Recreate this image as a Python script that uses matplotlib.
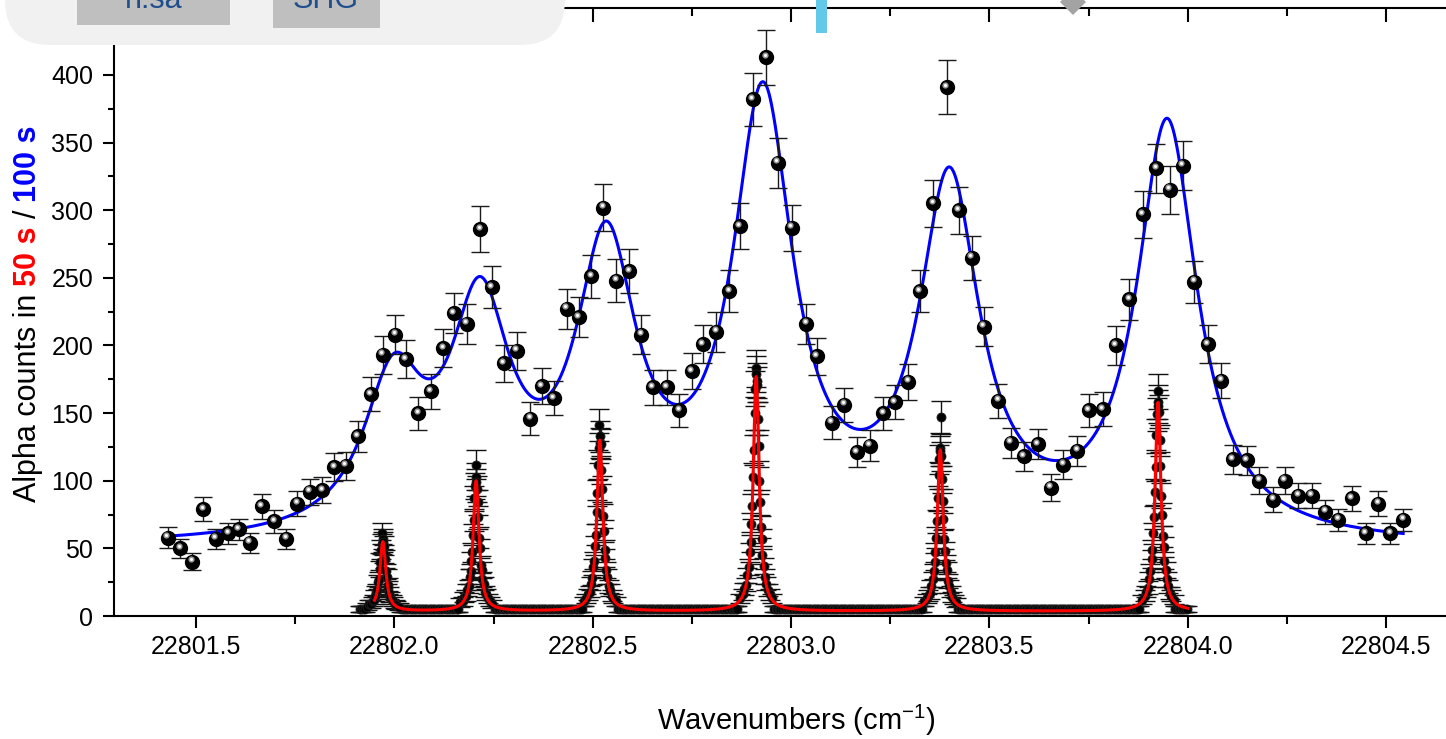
import numpy as np
import matplotlib
matplotlib.use("Agg")
import matplotlib.pyplot as plt
from matplotlib import transforms
from matplotlib.patches import FancyBboxPatch, Rectangle, RegularPolygon
from matplotlib.ticker import MultipleLocator, FormatStrFormatter

plt.rcParams['font.family'] = ['Liberation Sans', 'DejaVu Sans']
plt.rcParams['mathtext.fontset'] = 'custom'
plt.rcParams['mathtext.rm'] = 'Liberation Sans'
plt.rcParams['mathtext.it'] = 'Liberation Sans:italic'
plt.rcParams['mathtext.bf'] = 'Liberation Sans:bold'

# ---- 100 s scan (coarse, black spheres) ----
coarse_x = [
    22801.429, 22801.460, 22801.490, 22801.518, 22801.550, 22801.581, 22801.608, 22801.636, 22801.666, 22801.697,
    22801.727, 22801.755, 22801.787, 22801.818, 22801.848, 22801.878, 22801.908, 22801.941, 22801.971, 22802.002,
    22802.029, 22802.060, 22802.092, 22802.123, 22802.150, 22802.183, 22802.216, 22802.246, 22802.276, 22802.309,
    22802.342, 22802.372, 22802.402, 22802.435, 22802.465, 22802.496, 22802.526, 22802.559, 22802.592, 22802.622,
    22802.652, 22802.687, 22802.718, 22802.750, 22802.778, 22802.811, 22802.844, 22802.871, 22802.904, 22802.937,
    22802.967, 22803.002, 22803.038, 22803.065, 22803.103, 22803.134, 22803.166, 22803.199, 22803.232, 22803.262,
    22803.295, 22803.325, 22803.358, 22803.393, 22803.423, 22803.456, 22803.486, 22803.522, 22803.554, 22803.587,
    22803.622, 22803.655, 22803.686, 22803.721, 22803.751, 22803.786, 22803.819, 22803.852, 22803.887, 22803.920,
    22803.955, 22803.988, 22804.016, 22804.051, 22804.084, 22804.114, 22804.149, 22804.180, 22804.215, 22804.245,
    22804.278, 22804.313, 22804.346, 22804.379, 22804.414, 22804.449, 22804.480, 22804.510, 22804.543,
]
coarse_counts = [
    58, 50, 40, 79, 57, 61, 64, 54, 81, 70,
    57, 83, 92, 93, 110, 111, 133, 164, 193, 208,
    190, 150, 166, 198, 224, 216, 286, 243, 187, 196,
    146, 170, 161, 227, 221, 251, 302, 248, 255, 208,
    169, 169, 152, 181, 201, 210, 240, 288, 382, 413,
    335, 287, 216, 192, 143, 156, 121, 126, 150, 158,
    173, 240, 305, 391, 300, 265, 214, 159, 128, 118,
    127, 95, 112, 122, 152, 153, 200, 234, 297, 331,
    315, 333, 247, 201, 174, 116, 115, 100, 86, 100,
    89, 89, 77, 71, 87, 61, 83, 61, 71,
]

# blue fit: peak positions / top values
blue_centers = [22801.998, 22802.216, 22802.534, 22802.929, 22803.399, 22803.948]
blue_tops = [194, 251, 292, 395, 332, 368]
blue_end_values = [59, 61]
blue_fwhm = 0.185

# ---- 50 s scan (fine, small black dots) ----
red_centers = [22801.971, 22802.206, 22802.518, 22802.912, 22803.376, 22803.925]
red_tops = [55, 100, 130, 177, 123, 158]
red_base = 3.5
red_fwhm = 0.018

fine_offsets = [-0.040, -0.034, -0.030, -0.026, -0.022, -0.019, -0.016, -0.014, -0.012, -0.010,
                -0.008, -0.006, -0.004, -0.002, -0.001, 0.0, 0.001, 0.002, 0.004, 0.006,
                0.008, 0.010, 0.012, 0.014, 0.016, 0.019, 0.022, 0.026, 0.030, 0.034, 0.040]
fine_peak1 = [7, 9, 9, 11, 12, 15, 18, 19, 25, 27, 35, 40, 49, 53, 61, 57, 55, 52, 46, 42,
              33, 29, 23, 21, 17, 14, 12, 11, 9, 8, 7]
fine_peak2 = [10, 11, 14, 15, 19, 22, 29, 33, 41, 47, 60, 71, 87, 96, 112, 103, 99, 94, 84, 73,
              58, 50, 38, 34, 27, 24, 18, 16, 13, 11, 9]
fine_peak3 = [11, 13, 16, 18, 24, 28, 36, 41, 52, 60, 77, 91, 112, 124, 141, 133, 128, 127, 108, 94,
              74, 63, 49, 43, 34, 29, 22, 19, 15, 13, 11]
fine_peak4 = [13, 16, 20, 23, 30, 36, 47, 55, 68, 81, 103, 123, 150, 168, 183, 179, 174, 171, 146, 126,
              100, 84, 66, 57, 45, 37, 29, 24, 19, 16, 13]
fine_peak5 = [11, 13, 15, 17, 22, 27, 33, 40, 47, 58, 70, 87, 104, 116, 124, 122, 147, 118, 101, 85,
              72, 57, 48, 39, 34, 26, 22, 18, 14, 12, 10]
fine_peak6 = [12, 15, 18, 21, 27, 33, 42, 49, 61, 73, 92, 110, 134, 149, 166, 158, 155, 151, 130, 111,
              89, 75, 59, 51, 41, 34, 27, 22, 17, 15, 12]
fine_scan_start, fine_scan_stop, fine_scan_step = 22801.913, 22804.0, 0.004
fine_bg_counts = 5


def lorentz(x, c, w):
    return 1.0 / (1.0 + (2.0 * (np.asarray(x) - c) / w) ** 2)


# blue fit: linear baseline + six Lorentzians through the read tops / ends
x0 = coarse_x[0]
pts = list(blue_centers) + [coarse_x[0], coarse_x[-1]]
vals = list(blue_tops) + list(blue_end_values)
A = np.array([[1.0, p - x0] + [lorentz(p, c, blue_fwhm) for c in blue_centers] for p in pts])
coef_b = np.linalg.solve(A, np.array(vals, float))
xb = np.linspace(coarse_x[0], coarse_x[-1], 2000)
yb = coef_b[0] + coef_b[1] * (xb - x0) + sum(a * lorentz(xb, c, blue_fwhm) for a, c in zip(coef_b[2:], blue_centers))

# red fit
R = np.array([[lorentz(p, c, red_fwhm) for c in red_centers] for p in red_centers])
amp_r = np.linalg.solve(R, np.array(red_tops, float) - red_base)
xr = np.linspace(22801.95, 22804.0, 5000)
yr = red_base + sum(a * lorentz(xr, c, red_fwhm) for a, c in zip(amp_r, red_centers))

# fine scan points
grid = np.arange(fine_scan_start, fine_scan_stop, fine_scan_step)
keep = np.all([np.abs(grid - c) > 0.044 for c in red_centers], axis=0)
fine_x = [grid[keep]]
fine_y = [np.full(keep.sum(), fine_bg_counts, float)]
for c, cnt in zip(red_centers, [fine_peak1, fine_peak2, fine_peak3, fine_peak4, fine_peak5, fine_peak6]):
    fine_x.append(c + np.array(fine_offsets))
    fine_y.append(np.array(cnt, float))
fine_x = np.concatenate(fine_x)
fine_y = np.concatenate(fine_y)

W, H = 1446, 739
fig = plt.figure(figsize=(W / 100, H / 100), dpi=100)
ax = fig.add_axes([114 / W, (H - 616) / H, (1470 - 114) / W, (616 - 8) / H])

ax.errorbar(fine_x, fine_y, yerr=np.sqrt(fine_y), fmt='none', ecolor='#111111',
            elinewidth=1.0, capsize=7, capthick=1.0, zorder=2)
ax.plot(fine_x, fine_y, 'o', ms=6.5, mfc='black', mec='#222222', mew=0.6, zorder=3)
ax.plot(xr, yr, color='red', lw=2.2, zorder=4)

ax.plot(xb, yb, color='#0000ff', lw=2.2, zorder=5)
ax.errorbar(coarse_x, coarse_counts, yerr=np.sqrt(coarse_counts), fmt='none', ecolor='#1a1a1a',
            elinewidth=1.0, capsize=6.5, capthick=1.0, zorder=6)
ax.plot(coarse_x, coarse_counts, 'o', ms=10, mfc='black', mec='black', zorder=7)
hl = transforms.offset_copy(ax.transData, fig=fig, x=-1.5, y=2.5, units='dots')
ax.plot(coarse_x, coarse_counts, 'o', ms=4.5, mfc='#999999', mec='none', transform=hl, zorder=8)
ax.plot(coarse_x, coarse_counts, 'o', ms=2.2, mfc='white', mec='none', transform=hl, zorder=9)

ax.set_xlim(22801.2933, 22804.7115)
ax.set_ylim(0, 449.5)
ax.xaxis.set_major_locator(MultipleLocator(0.5))
ax.xaxis.set_minor_locator(MultipleLocator(0.25))
ax.xaxis.set_major_formatter(FormatStrFormatter('%.1f'))
ax.yaxis.set_major_locator(MultipleLocator(50))
ax.yaxis.set_minor_locator(MultipleLocator(25))
for s in ['top', 'right']:
    ax.spines[s].set_visible(False)
for s in ['bottom', 'left']:
    ax.spines[s].set_linewidth(1.5)
ax.tick_params(axis='x', which='major', direction='out', length=8.6, width=1.5, labelsize=18, pad=5)
ax.tick_params(axis='x', which='minor', direction='out', length=5.8, width=1.5)
ax.tick_params(axis='y', which='major', direction='out', length=8, width=1.5, labelsize=18, pad=7)
ax.tick_params(axis='y', which='minor', direction='out', length=4, width=1.5)

top = ax.secondary_xaxis('top')
top.xaxis.set_major_locator(MultipleLocator(0.5))
top.xaxis.set_minor_locator(MultipleLocator(0.25))
top.tick_params(which='major', direction='in', length=10, width=1.5, labeltop=False, labelbottom=False)
top.tick_params(which='minor', direction='in', length=5.8, width=1.5)
top.spines['top'].set_linewidth(1.5)

ax.set_xlabel('Wavenumbers (cm$^{-1}$)', fontsize=21)
ax.xaxis.set_label_coords(796 / W, 1 - 720 / H, transform=fig.transFigure)
ax.xaxis.label.set_va('center')

# multicoloured y label, stacked from the bottom
renderer = fig.canvas.get_renderer()
ylabel_parts = [("Alpha counts in", 'black', 'normal'), ("50 s", 'red', 'bold'),
                ("/", 'black', 'normal'), ("100 s", '#0000ff', 'bold')]
gap = 8
cur = H - 502
for txt, col, wt in ylabel_parts:
    t = fig.text(28 / W, cur / H, txt, rotation=90, color=col, fontweight=wt, fontsize=22,
                 ha='center', va='bottom')
    bb = t.get_window_extent(renderer)
    cur = bb.y1 + gap

# screen overlay at top (toolbar remnants)
ident = transforms.IdentityTransform()
fig.add_artist(FancyBboxPatch((5, H - 45), 560, 120, boxstyle="round,pad=0,rounding_size=45",
                              facecolor='#f1f1f1', edgecolor='none', transform=ident, zorder=20))
fig.add_artist(Rectangle((77, H - 25), 153, 40, facecolor='#bfbfbf', edgecolor='none',
                         transform=ident, zorder=21))
fig.add_artist(Rectangle((273, H - 28), 107, 40, facecolor='#bfbfbf', edgecolor='none',
                         transform=ident, zorder=21))
fig.text(154, H - 8, "n.sa", fontsize=22, color='#1f4e8c', ha='center', va='baseline',
         transform=ident, zorder=22)
fig.text(326, H - 8, "SHG", fontsize=22, color='#1f4e8c', ha='center', va='baseline',
         transform=ident, zorder=22)
fig.add_artist(Rectangle((816, H - 33), 11, 40, facecolor='#62c9e8', edgecolor='none',
                         transform=ident, zorder=21))
fig.add_artist(RegularPolygon((1073, H - 2), numVertices=4, radius=13, facecolor='#a3a3a3',
                              edgecolor='none', transform=ident, zorder=21))

fig.savefig('out.png', dpi=100)
